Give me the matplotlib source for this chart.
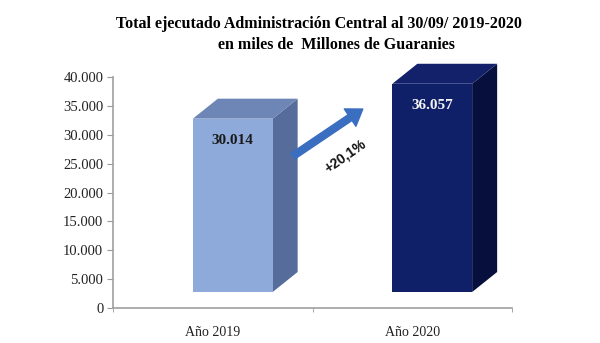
import matplotlib.pyplot as plt
from matplotlib.patches import Polygon

years = ["Año 2019", "Año 2020"]
totals = [30014, 36057]
value_labels = ["30.014", "36.057"]
growth_label = "+20,1%"
yticks = [0, 5000, 10000, 15000, 20000, 25000, 30000, 35000, 40000]
ytick_labels = ["0", "5.000", "10.000", "15.000", "20.000", "25.000", "30.000", "35.000", "40.000"]

front_colors = ["#8eaadb", "#0f1f68"]
top_colors = ["#6d86b6", "#13206a"]
side_colors = ["#566d9c", "#070f3c"]
label_colors = ["#1a1a1a", "#f2f2f2"]

serif = "Liberation Serif"

fig = plt.figure(figsize=(6, 3.43), dpi=100)
ax = fig.add_axes([113 / 600, 35 / 343, 399 / 600, 231 / 343])
ax.set_xlim(-0.5, 1.5)
ax.set_ylim(0, 40000)

# pixel -> data conversion for the fake 3D depth
px_x = 2.0 / 399
px_y = 40000 / 231
shift_x, shift_y = 20 * px_x, 16 * px_y   # front face offset
depth_x, depth_y = 25 * px_x, 20 * px_y   # depth of the box
width = 0.4

for i, v in enumerate(totals):
    l = i - width / 2 + shift_x
    r = i + width / 2 + shift_x
    b = shift_y
    t = v + shift_y
    side = [(r, b), (r + depth_x, b + depth_y), (r + depth_x, t + depth_y), (r, t)]
    top = [(l, t), (r, t), (r + depth_x, t + depth_y), (l + depth_x, t + depth_y)]
    front = [(l, b), (r, b), (r, t), (l, t)]
    ax.add_patch(Polygon(side, closed=True, fc=side_colors[i], ec="none", clip_on=False))
    ax.add_patch(Polygon(top, closed=True, fc=top_colors[i], ec="none", clip_on=False))
    ax.add_patch(Polygon(front, closed=True, fc=front_colors[i], ec="none", clip_on=False))
    ax.text((l + r) / 2, v - 6 * px_y, value_labels[i], ha="center", va="center",
            fontsize=11, fontweight="bold", family=serif, color=label_colors[i])

# growth arrow between the two years
ax.annotate("", xy=(0.752, 34450), xytext=(0.402, 26300),
            arrowprops=dict(arrowstyle="simple,head_width=1.5,head_length=1.1,tail_width=0.5",
                            fc="#3a6ec0", ec="#3a6ec0", shrinkA=0, shrinkB=0))
ax.text(0.665, 26300, growth_label, ha="center", va="center", rotation=35,
        fontsize=10, fontweight="bold", family="Liberation Sans", color="#111111")

ax.set_yticks(yticks)
ax.set_yticklabels(ytick_labels, family=serif, fontsize=10.5, color="#222222")
ax.set_xticks([0, 1])
ax.set_xticklabels(years, family=serif, fontsize=10, color="#222222")
ax.set_xticks([-0.5, 0.5, 1.5], minor=True)
ax.tick_params(axis="x", which="major", length=0, pad=13)
ax.tick_params(axis="x", which="minor", length=3, color="#999999", direction="out")
ax.tick_params(axis="y", length=4, color="#999999", direction="out", pad=3)

for s in ["top", "right"]:
    ax.spines[s].set_visible(False)
for s in ["left", "bottom"]:
    ax.spines[s].set_color("#a0a0a0")
    ax.spines[s].set_linewidth(1.2)
ax.patch.set_alpha(0)

fig.text(319 / 600, 1 - 24 / 343, "Total ejecutado Administración Central al 30/09/ 2019-2020",
         ha="center", va="center", family=serif, fontweight="bold", fontsize=11.5)
fig.text(336 / 600, 1 - 45 / 343, "en miles de  Millones de Guaranies",
         ha="center", va="center", family=serif, fontweight="bold", fontsize=11.5)

fig.savefig("out.png", dpi=100)
